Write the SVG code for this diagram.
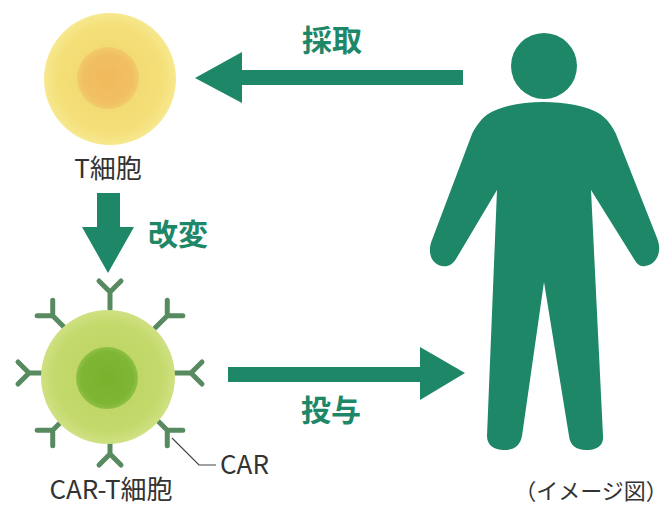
<svg xmlns="http://www.w3.org/2000/svg" width="670" height="506" viewBox="0 0 670 506">
  <style>
    .label { font-family: "Noto Sans CJK JP", "Noto Sans", sans-serif; fill: #333333; }
    .step { font-family: "Noto Sans CJK JP", "Noto Sans", sans-serif; font-weight: bold; fill: #1d8767; }
    .arrow { fill: #1d8767; }
    .receptor { fill: none; stroke: #588a60; stroke-width: 5; stroke-linecap: round; stroke-linejoin: round; }
    .leader { fill: none; stroke: #444444; stroke-width: 1.2; }
  </style>
  <defs>
    <radialGradient id="tcellBody" cx="0.5" cy="0.5" r="0.5">
      <stop offset="0" stop-color="#f3d66c"/>
      <stop offset="0.8" stop-color="#f4df78"/>
      <stop offset="1" stop-color="#f7e88f"/>
    </radialGradient>
    <radialGradient id="tcellCore" cx="0.5" cy="0.5" r="0.5">
      <stop offset="0" stop-color="#f0b95c"/>
      <stop offset="0.8" stop-color="#f1c062"/>
      <stop offset="1" stop-color="#f2cb6b"/>
    </radialGradient>
    <radialGradient id="carBody" cx="0.5" cy="0.5" r="0.5">
      <stop offset="0" stop-color="#bcd462"/>
      <stop offset="0.8" stop-color="#c3d96b"/>
      <stop offset="1" stop-color="#cfe183"/>
    </radialGradient>
    <radialGradient id="carCore" cx="0.5" cy="0.5" r="0.5">
      <stop offset="0" stop-color="#78b22c"/>
      <stop offset="0.85" stop-color="#7fb735"/>
      <stop offset="1" stop-color="#8fc044"/>
    </radialGradient>
    <!-- Y-shaped receptor, pointing outward (up) from its base -->
    <path id="car" class="receptor" d="M0,0 V-17 M-11,-28 L0,-17 L11,-28"/>
  </defs>

  <rect width="670" height="506" fill="#ffffff"/>

  <!-- Connectors -->
  <g id="connectors">
    <!-- collection: person to T cell -->
    <polygon class="arrow" points="463,70 242,70 242,52 195,78 242,103 242,85 463,85"/>
    <!-- modification: T cell to CAR-T cell -->
    <polygon class="arrow" points="97,193 120,193 120,227 134,227 108,273 82,227 97,227"/>
    <!-- administration: CAR-T cell to person -->
    <polygon class="arrow" points="228,367 420,367 420,347 465,373 420,400 420,382 228,382"/>
    <!-- leader to a receptor -->
    <polyline class="leader" points="172,438 199,465 216,465"/>
  </g>

  <!-- T cell -->
  <g id="t-cell">
    <circle cx="110" cy="79" r="66" fill="url(#tcellBody)"/>
    <circle cx="108" cy="78" r="31" fill="url(#tcellCore)"/>
    <text class="label" x="108" y="178" font-size="26" text-anchor="middle">T細胞</text>
  </g>

  <!-- CAR-T cell -->
  <g id="car-t-cell">
    <g transform="translate(110,373)">
      <use href="#car" transform="rotate(0) translate(0,-64)"/>
      <use href="#car" transform="rotate(45) translate(0,-64)"/>
      <use href="#car" transform="rotate(90) translate(0,-64)"/>
      <use href="#car" transform="rotate(135) translate(0,-64)"/>
      <use href="#car" transform="rotate(180) translate(0,-64)"/>
      <use href="#car" transform="rotate(225) translate(0,-64)"/>
      <use href="#car" transform="rotate(270) translate(0,-64)"/>
      <use href="#car" transform="rotate(315) translate(0,-64)"/>
    </g>
    <circle cx="108" cy="377" r="67" fill="url(#carBody)"/>
    <circle cx="107" cy="378" r="31" fill="url(#carCore)"/>
    <text class="label" x="111" y="499" font-size="26" text-anchor="middle">CAR-T細胞</text>
  </g>

  <!-- CAR label -->
  <g id="car-label">
    <text class="label" x="220" y="474" font-size="26">CAR</text>
  </g>

  <!-- Patient -->
  <g id="person" fill="#1d8767">
    <circle cx="544" cy="66" r="33"/>
    <path d="M543,102 C565,102 588,106 600,114 C608,120 612,126 616,134 L657,238 C663,252 656,265 645,266 C640,267 637,264 634,259 L591,190 L603,436 C604,446 596,450 586,450 C576,450 570,445 569,436 L544,282 L522,436 C520,446 514,450 504,450 C494,450 487,445 487,436 L497,190 L456,259 C452,265 448,267 442,266 C431,264 427,252 432,240 L472,134 C476,126 481,119 488,114 C500,106 522,102 543,102 Z"/>
    <text class="label" x="591" y="499" font-size="22" text-anchor="middle">（イメージ図）</text>
  </g>

  <!-- Step labels -->
  <g id="step-labels">
    <text class="step" x="332" y="51" font-size="30" text-anchor="middle">採取</text>
    <text class="step" x="178" y="245" font-size="30" text-anchor="middle">改変</text>
    <text class="step" x="331" y="421" font-size="30" text-anchor="middle">投与</text>
  </g>
</svg>
